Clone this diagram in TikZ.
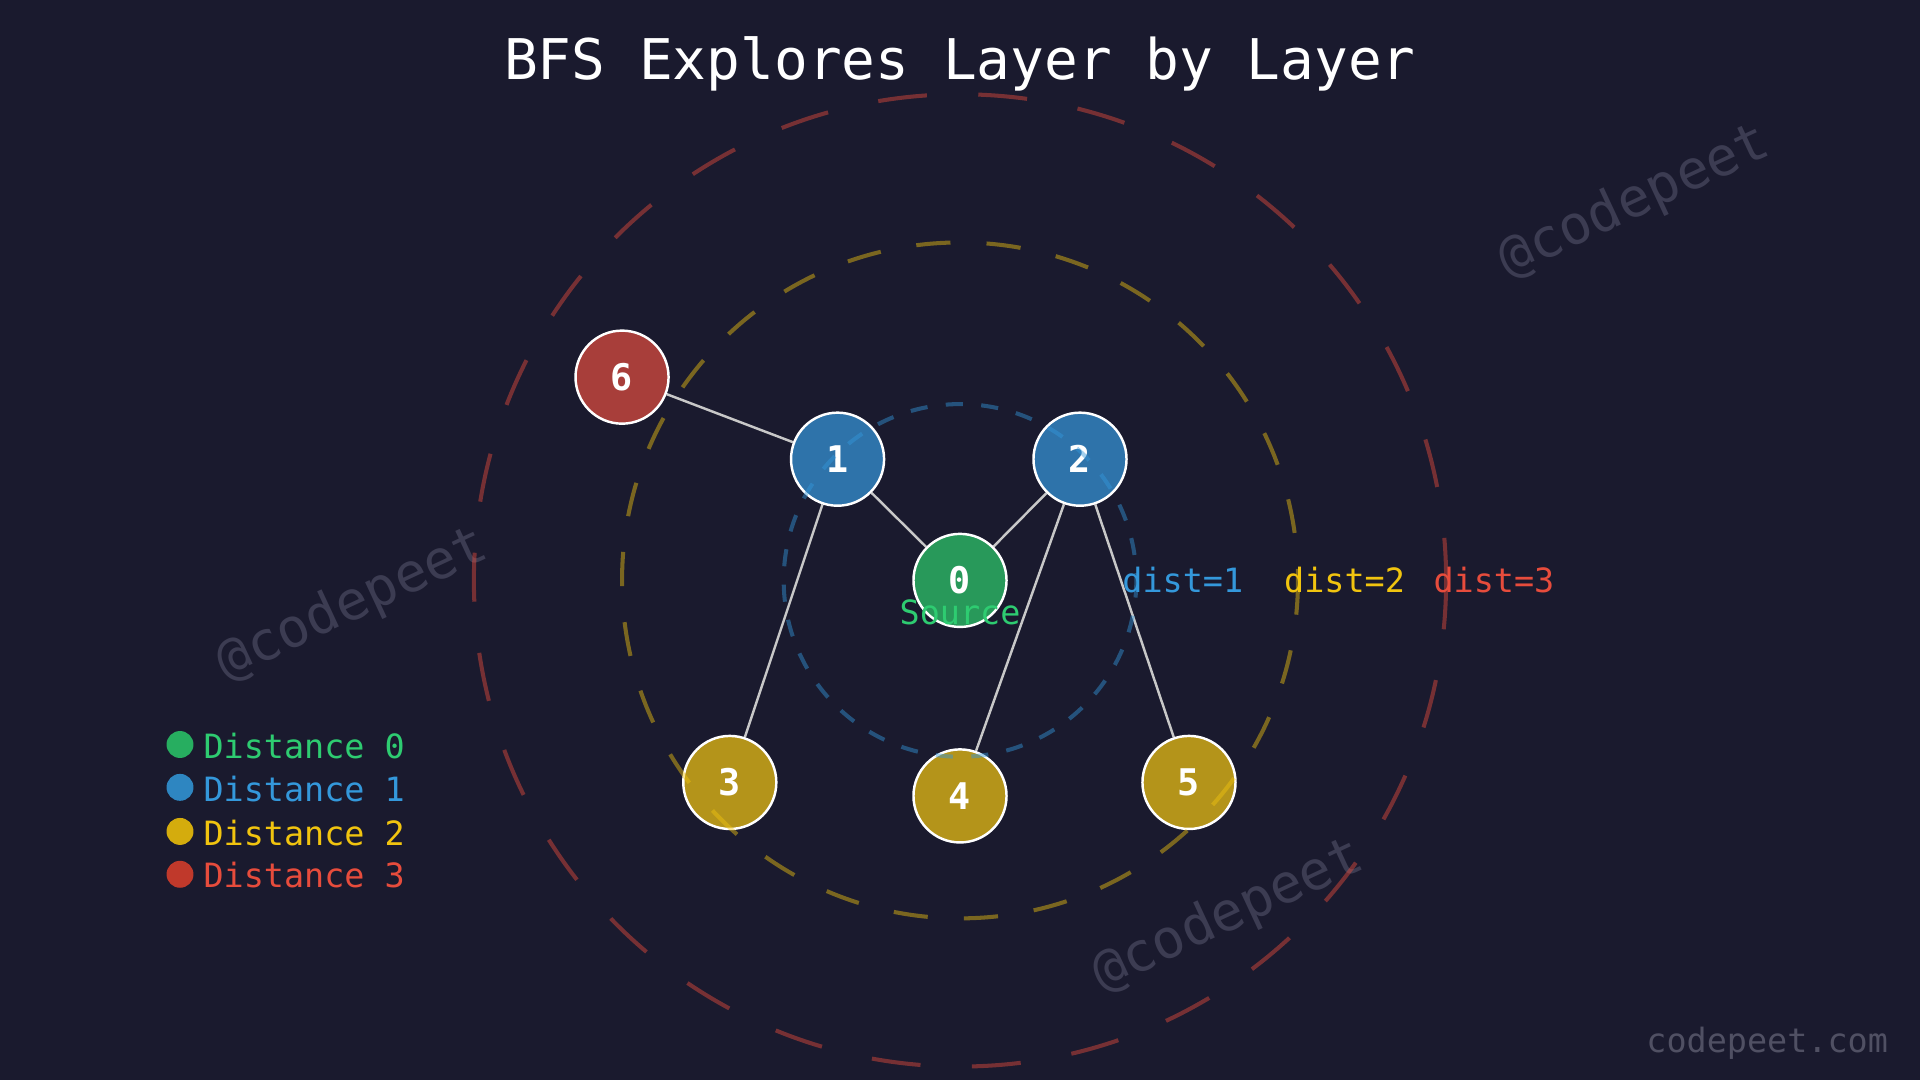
\documentclass[tikz,border=0pt]{standalone}
\usepackage{fontspec}
\setmonofont{DejaVu Sans Mono}
\definecolor{bg}{HTML}{1A1A2E}
\definecolor{nGreen}{HTML}{28995A}
\definecolor{nBlue}{HTML}{2E73AA}
\definecolor{nYellow}{HTML}{B4941A}
\definecolor{nRed}{HTML}{A83E3A}
\definecolor{tGreen}{HTML}{2ECC71}
\definecolor{tBlue}{HTML}{3498DB}
\definecolor{tYellow}{HTML}{F1C40F}
\definecolor{tRed}{HTML}{E74C3C}
\definecolor{dGreen}{HTML}{27AE60}
\definecolor{dBlue}{HTML}{2E86C1}
\definecolor{dYellow}{HTML}{D4AC0D}
\definecolor{dRed}{HTML}{C0392B}
\definecolor{edgec}{HTML}{C8C8C8}
\definecolor{wm}{HTML}{3C3C52}
\pgfdeclarelayer{bgfill}
\pgfdeclarelayer{edges}
\pgfsetlayers{bgfill,edges,main}
\tikzset{
  gnode/.style={circle, draw=white, line width=2pt, minimum size=76pt, inner sep=0pt,
    text=white, font=\ttfamily\bfseries\fontsize{30}{36}\selectfont},
  gedge/.style={draw=edgec, line width=2pt},
  ring/.style={line width=3.3pt, draw opacity=0.45},
  lbl/.style={font=\ttfamily\fontsize{27.3}{32}\selectfont, inner sep=0pt},
  legdot/.style={circle, minimum size=22pt, inner sep=0pt},
  wmark/.style={font=\ttfamily\fontsize{44}{50}\selectfont, text=wm, rotate=25, inner sep=0pt}
}
\begin{document}
\begin{tikzpicture}[x=1pt,y=-1pt]
\begin{pgfonlayer}{bgfill}
\fill[bg] (0,0) rectangle (1568,882);
\end{pgfonlayer}
\useasboundingbox (0,0) rectangle (1568,882);

% watermarks
\begin{pgfonlayer}{bgfill}
\node[wmark] (w1) at (288,494) {@codepeet};
\node[wmark] (w2) at (1335,165) {@codepeet};
\node[wmark] (w3) at (1003,748) {@codepeet};
\end{pgfonlayer}

% title
\node[font=\ttfamily\fontsize{45.8}{54}\selectfont, text=white] (title) at (784,52) {BFS Explores Layer by Layer};

% nodes
\coordinate (c) at (784,474);
\node[gnode, fill=nGreen] (n0) at (784,474) {0};
\node[gnode, fill=nBlue] (n1) at (684,375) {1};
\node[gnode, fill=nBlue] (n2) at (882,375) {2};
\node[gnode, fill=nRed] (n6) at (508,308) {6};
\node[gnode, fill=nYellow] (n3) at (596,639) {3};
\node[gnode, fill=nYellow] (n4) at (784,650) {4};
\node[gnode, fill=nYellow] (n5) at (971,639) {5};

% edges (behind nodes)
\begin{pgfonlayer}{edges}
\path[gedge] (n0) -- (n1);
\path[gedge] (n0) -- (n2);
\path[gedge] (n1) -- (n6);
\path[gedge] (n1) -- (n3);
\path[gedge] (n2) -- (n4);
\path[gedge] (n2) -- (n5);
\end{pgfonlayer}

% rings
\draw[ring, draw=tBlue, dash pattern=on 14pt off 15pt] (c) circle[radius=144];
\draw[ring, draw=tYellow, dash pattern=on 28pt off 29.5pt] (c) circle[radius=276];
\draw[ring, draw=tRed, dash pattern=on 40pt off 42pt] (c) circle[radius=397];

% labels
\node[lbl, text=tGreen] (src) at (784,500) {Source};
\node[lbl, text=tBlue] (d1) at (966,474) {dist=1};
\node[lbl, text=tYellow] (d2) at (1098,474) {dist=2};
\node[lbl, text=tRed] (d3) at (1220,474) {dist=3};

% legend
\node[legdot, fill=dGreen] (l0) at (147,608) {};
\node[legdot, fill=dBlue] (l1) at (147,643) {};
\node[legdot, fill=dYellow] (l2) at (147,679) {};
\node[legdot, fill=dRed] (l3) at (147,714) {};
\node[lbl, text=tGreen, anchor=west] (t0) at (166,609) {Distance 0};
\node[lbl, text=tBlue, anchor=west] (t1) at (166,644) {Distance 1};
\node[lbl, text=tYellow, anchor=west] (t2) at (166,680) {Distance 2};
\node[lbl, text=tRed, anchor=west] (t3) at (166,715) {Distance 3};

% footer
\node[lbl, text=wm!90!white, anchor=east] (foot) at (1542,852) {codepeet.com};
\end{tikzpicture}
\end{document}
